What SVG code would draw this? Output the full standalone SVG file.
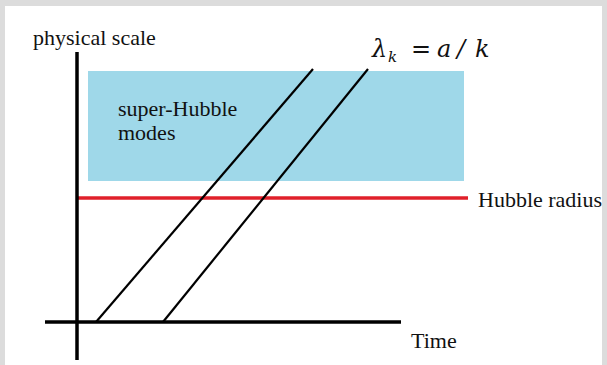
<svg xmlns="http://www.w3.org/2000/svg" width="607" height="365" viewBox="0 0 607 365">
<style>
.t{font-family:"Liberation Serif","Times New Roman",serif;font-size:22px;fill:#111}
.m{font-family:"DejaVu Serif","Liberation Serif",serif;font-style:italic;font-size:24px;fill:#111}
.ax{stroke:#000;stroke-width:3.5;fill:none}
.ln{stroke:#000;stroke-width:2.2;fill:none}
</style>
<rect x="0" y="0" width="607" height="365" fill="#dcdcdc"/>
<rect x="5" y="6" width="597" height="359" fill="#fff"/>
<g id="superhubble">
<rect x="88" y="71" width="376" height="110" fill="#9fd8e9"/>
<text class="t" x="118" y="116">super-Hubble</text>
<text class="t" x="118" y="140">modes</text>
</g>
<g id="hubble">
<line x1="77" y1="198" x2="468" y2="198" stroke="#e0202a" stroke-width="3.5"/>
<text class="t" x="478" y="207">Hubble radius</text>
</g>
<g id="axes">
<line class="ax" x1="77" y1="52" x2="77" y2="360"/>
<line class="ax" x1="45" y1="322" x2="401" y2="322"/>
<text class="t" x="33" y="45">physical scale</text>
<text class="t" x="411" y="348">Time</text>
</g>
<g id="connectors">
<line class="ln" x1="96" y1="322" x2="313" y2="69"/>
<line class="ln" x1="163" y1="322" x2="368" y2="69"/>
</g>
<g id="formula">
<text class="m" x="372" y="57">λ</text>
<text class="m" x="388" y="62" style="font-size:15px">k</text>
<text x="411" y="57" style="font-family:'DejaVu Serif',serif;font-size:24px;fill:#111">=</text>
<text class="m" x="437" y="57">a</text>
<text class="m" x="457" y="57">/</text>
<text class="m" x="475" y="57">k</text>
</g>
</svg>
